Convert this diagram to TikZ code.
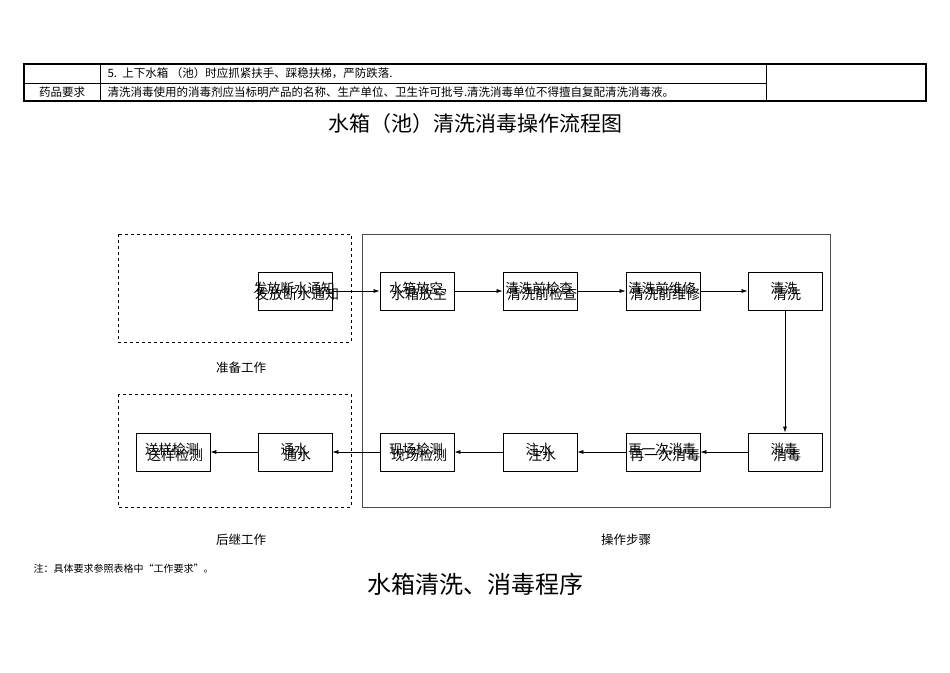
\documentclass[tikz,border=0pt]{standalone}
\usepackage{fontspec}
\setmainfont{Noto Sans CJK SC}
\usetikzlibrary{arrows.meta}
\begin{document}
\begin{tikzpicture}[x=1pt,y=-1pt,
  stepbox/.style={draw,line width=0.9pt,minimum width=74pt,minimum height=38pt,inner sep=0pt},
  tx/.style={font=\fontsize{13.5}{14}\selectfont},
  arr/.style={-{Latex[length=6pt,width=4pt]},line width=0.6pt},
  lab/.style={font=\fontsize{12.5}{14}\selectfont}]
\useasboundingbox (0,0) rectangle (950,672);
% table
\draw[line width=1.2pt] (24,64) rectangle (926,101);
\draw[line width=0.5pt] (24,83) -- (766,83);
\draw[line width=0.5pt] (100,64) -- (100,101);
\draw[line width=0.5pt] (766,64) -- (766,101);
\node[anchor=west,font=\fontsize{11.5}{12}\selectfont] (r1) at (104,73.5) {5.\ \ 上下水箱 （池）时应抓紧扶手、踩稳扶梯，严防跌落.};
\node[font=\fontsize{11.5}{12}\selectfont] (r2a) at (62,92) {药品要求};
\node[anchor=west,font=\fontsize{11.5}{12}\selectfont] (r2) at (104,92) {清洗消毒使用的消毒剂应当标明产品的名称、生产单位、卫生许可批号.清洗消毒单位不得擅自复配清洗消毒液。};
\node[font=\fontsize{21}{22}\selectfont] (t1) at (475,124) {水箱（池）清洗消毒操作流程图};
% frames
\draw[dashed,line width=0.5pt] (118,234) rectangle (351,342);
\draw[dashed,line width=0.5pt] (118,394) rectangle (351,507);
\draw[line width=0.5pt,black!70] (362,234) rectangle (830,507);
\node[lab] (g1) at (241,368) {准备工作};
\node[lab] (g2) at (241,540) {后继工作};
\node[lab] (g3) at (626,540) {操作步骤};
% boxes
\foreach \n/\x/\y/\t in {a/295/291/发放断水通知, b/417/291/水箱放空, c/540/291/清洗前检查, d/663/291/清洗前维修, e/785/291/清洗,
  f/785/452/消毒, g/663/452/再一次消毒, h/540/452/注水, i/417/452/现场检测, j/295/452/通水, k/173/452/送样检测}{
  \node[stepbox] (\n) at (\x,\y) {};
  \node[tx] (\n t1) at (\x-1,\y-3) {\t};
  \node[tx,font=\fontsize{14}{14}\selectfont] (\n t2) at (\x+2,\y+3) {\t};
}
\draw[arr] (a) -- (b);
\draw[arr] (b) -- (c);
\draw[arr] (c) -- (d);
\draw[arr] (d) -- (e);
\draw[arr] (e) -- (f);
\draw[arr] (f) -- (g);
\draw[arr] (g) -- (h);
\draw[arr] (h) -- (i);
\draw[arr] (i) -- (j);
\draw[arr] (j) -- (k);
\node[anchor=west,font=\fontsize{10}{11}\selectfont] (note) at (30,569) {注：具体要求参照表格中“工作要求”。};
\node[font=\fontsize{24}{25}\selectfont] (t2) at (475,584) {水箱清洗、消毒程序};
\end{tikzpicture}
\end{document}
